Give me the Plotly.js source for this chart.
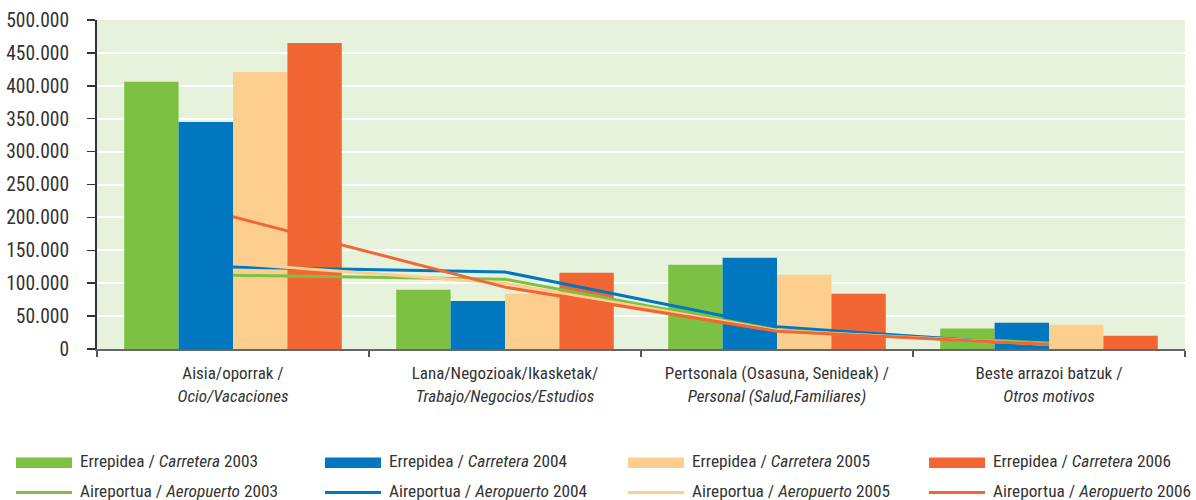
<!DOCTYPE html>
<html>
<head>
<meta charset="utf-8">
<script src="https://cdn.plot.ly/plotly-3.0.1.min.js"></script>
<style>html,body{margin:0;padding:0;background:#fff;}#chart{width:1196px;height:500px;}</style>
</head>
<body>
<div id="chart"></div>
<script>
// ---- data ----
const categories = ["Aisia/oporrak", "Lana/Negozioak/Ikasketak", "Pertsonala", "Beste arrazoi batzuk"];
const categoryLabels = [
  "Aisia/oporrak /<br><i>Ocio/Vacaciones</i>",
  "Lana/Negozioak/Ikasketak/<br><i>Trabajo/Negocios/Estudios</i>",
  "Pertsonala (Osasuna, Senideak) /<br><i>Personal (Salud,Familiares)</i>",
  "Beste arrazoi batzuk /<br><i>Otros motivos</i>"
];
const years = ["2003", "2004", "2005", "2006"];
const road2003 = [406000, 90000, 128000, 31000];
const road2004 = [345000, 73000, 138500, 40000];
const road2005 = [421000, 84000, 113000, 37000];
const road2006 = [465000, 116000, 84000, 20000];
const air2003 = [112000, 106000, 29000, 9000];
const air2004 = [124500, 117000, 34000, 5000];
const air2005 = [130000, 100000, 28000, 7000];
const air2006 = [201000, 94000, 27000, 7000];
const yTicks = [0, 50000, 100000, 150000, 200000, 250000, 300000, 350000, 400000, 450000, 500000];

// ---- styling ----
const colors = ["#7CC143", "#0077BF", "#FDCE8E", "#F26633"];
const FONT = "'Roboto Condensed', 'Liberation Sans Narrow', 'DejaVu Sans Condensed', 'Arial Narrow', Roboto, sans-serif";
const roadSeries = [road2003, road2004, road2005, road2006];
const airSeries = [air2003, air2004, air2005, air2006];

const traces = [];
roadSeries.forEach((vals, i) => {
  traces.push({type: "bar", x: categories, y: vals, marker: {color: colors[i], line: {width: 0}},
    name: "Errepidea / Carretera " + years[i], showlegend: false});
});
airSeries.forEach((vals, i) => {
  traces.push({type: "scatter", mode: "lines", x: categories, y: vals, line: {color: colors[i], width: 3},
    name: "Aireportua / Aeropuerto " + years[i], showlegend: false});
});

// custom legend (paper coords)
const L = 97, R = 1185, T = 20, B = 349;
const px = v => (v - L) / (R - L);
const py = v => (B - v) / (B - T);
const colStart = [16, 325, 628, 929];
const shapes = [], annotations = [];
years.forEach((yr, i) => {
  const x0 = colStart[i], x1 = colStart[i] + 56;
  shapes.push({type: "rect", xref: "paper", yref: "paper", x0: px(x0), x1: px(x1), y0: py(468), y1: py(457.5),
    fillcolor: colors[i], line: {width: 0}});
  shapes.push({type: "line", xref: "paper", yref: "paper", x0: px(x0), x1: px(x1), y0: py(492.5), y1: py(492.5),
    line: {color: colors[i], width: 3}});
  annotations.push({xref: "paper", yref: "paper", x: px(x1 + 6), y: py(461), xanchor: "left", yanchor: "middle",
    showarrow: false, text: "Errepidea / <i>Carretera</i> " + yr, font: {family: FONT, size: 17.3, color: "#333"}});
  annotations.push({xref: "paper", yref: "paper", x: px(x1 + 6), y: py(491), xanchor: "left", yanchor: "middle",
    showarrow: false, text: "Aireportua / <i>Aeropuerto</i> " + yr, font: {family: FONT, size: 17.3, color: "#333"}});
});

const layout = {
  width: 1196, height: 500,
  margin: {l: L, r: 1196 - R, t: T, b: 500 - B},
  paper_bgcolor: "#ffffff",
  plot_bgcolor: "#E6F2DB",
  separators: ",.",
  barmode: "group", bargap: 0.2, bargroupgap: 0,
  showlegend: false,
  font: {family: FONT, color: "#333"},
  xaxis: {
    type: "category", tickmode: "array", tickvals: categories, ticktext: categoryLabels, tickangle: 0,
    tickson: "boundaries", ticks: "outside", ticklen: 6, tickwidth: 2, tickcolor: "#555",
    showline: true, linecolor: "#666", linewidth: 2, showgrid: false,
    tickfont: {family: FONT, size: 17, color: "#333"}, ticklabelstandoff: 8
  },
  yaxis: {
    range: [0, 500000], tickmode: "array", tickvals: yTicks, tickformat: ",d",
    ticks: "outside", ticklen: 8, tickwidth: 1.5, tickcolor: "#333",
    showline: true, linecolor: "#333", linewidth: 2,
    showgrid: true, gridcolor: "#ffffff", gridwidth: 2, zeroline: false,
    tickfont: {family: FONT, size: 19.5, color: "#333"}, ticklabelstandoff: 14
  },
  shapes: shapes,
  annotations: annotations
};

Plotly.newPlot("chart", traces, layout, {displayModeBar: false, staticPlot: true});
</script>
</body>
</html>
